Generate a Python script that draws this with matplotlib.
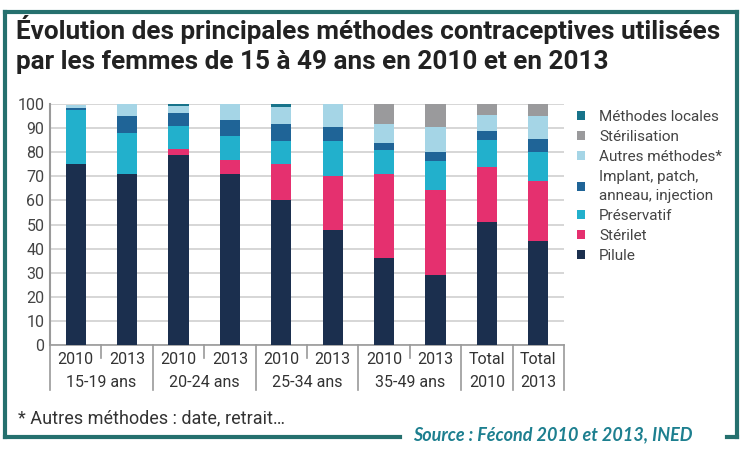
import matplotlib
matplotlib.use("Agg")
import matplotlib.pyplot as plt
from matplotlib.lines import Line2D
import matplotlib.transforms as mtransforms
import numpy as np

plt.rcParams['font.family'] = ['Roboto', 'DejaVu Sans']

year_labels = ["2010", "2013", "2010", "2013", "2010", "2013", "2010", "2013", "Total", "Total"]
group_labels = ["15-19 ans", "20-24 ans", "25-34 ans", "35-49 ans", "2010", "2013"]
group_centers = [0.5, 2.5, 4.5, 6.5, 8, 9]

series_names = ["Pilule", "Stérilet", "Préservatif", "Implant, patch,\nanneau, injection",
                "Autres méthodes*", "Stérilisation", "Méthodes locales"]
pilule        = [75.0, 71.0, 79.0, 71.0, 60.0, 47.6, 36.0, 29.0, 51.0, 43.0]
sterilet      = [0.0, 0.0, 2.3, 5.8, 15.0, 22.5, 35.0, 35.5, 23.0, 25.0]
preservatif   = [22.7, 17.0, 9.5, 10.0, 9.5, 14.5, 10.0, 12.0, 11.0, 12.0]
implant       = [0.7, 7.0, 5.5, 6.4, 7.0, 5.8, 3.0, 3.5, 4.0, 5.5]
autres        = [1.1, 5.0, 2.7, 6.8, 7.3, 9.6, 7.8, 10.5, 6.6, 9.5]
sterilisation = [0.0, 0.0, 0.0, 0.0, 0.0, 0.0, 8.2, 9.5, 4.4, 5.0]
locales       = [0.0, 0.0, 1.0, 0.0, 1.2, 0.0, 0.0, 0.0, 0.0, 0.0]
series = [pilule, sterilet, preservatif, implant, autres, sterilisation, locales]
colors = ["#1b2f4e", "#e5306f", "#22b0cc", "#1f6497", "#a5d5e6", "#9a9a9c", "#17738a"]

W, H = 747, 450
fig = plt.figure(figsize=(W / 100, H / 100), dpi=100)
fig.patch.set_facecolor("white")

ax = fig.add_axes([50 / W, 1 - 345 / H, (564 - 50) / W, (345 - 104) / H])
x = np.arange(len(year_labels))
bottom = np.zeros(len(x))
handles = []
for vals, col, name in zip(series, colors, series_names):
    v = np.array(vals)
    bc = ax.bar(x, v, width=0.39, bottom=bottom, color=col, label=name, zorder=3, linewidth=0)
    handles.append(bc)
    bottom += v

ax.set_xlim(-0.5, 9.5)
ax.set_ylim(0, 100)
ax.set_yticks(np.arange(0, 101, 10))
ax.tick_params(axis='y', length=0, labelsize=11.5, labelcolor="#444444", pad=4)
ax.yaxis.grid(True, color="#cfcfcf", linewidth=1.2, zorder=0)
ax.set_axisbelow(True)
for s in ["top", "right"]:
    ax.spines[s].set_visible(False)
ax.spines["left"].set_color("#9a9a9a")
ax.spines["left"].set_linewidth(1.5)
ax.spines["bottom"].set_color("#9a9a9a")
ax.spines["bottom"].set_linewidth(1.2)

ax.set_xticks(x)
ax.set_xticklabels(year_labels)
ax.tick_params(axis='x', length=0, labelsize=11.5, labelcolor="#333333", pad=5)

trans = mtransforms.blended_transform_factory(ax.transData, ax.transAxes)
for gx, gl in zip(group_centers, group_labels):
    ax.text(gx, -0.155, gl, transform=trans, ha="center", va="center",
            fontsize=11.5, color="#333333")

# separators
y_short = -13 / 241
y_long = -45 / 241
for i in range(11):
    xp = i - 0.5
    if i in (1, 3, 5, 7):
        ax.plot([xp, xp], [0, y_short], transform=trans, color="#9a9a9a", lw=1.2, clip_on=False)
    else:
        ax.plot([xp, xp], [0, y_long], transform=trans, color="#9a9a9a", lw=1.2, clip_on=False)

# legend
leg_handles = handles[::-1]
leg_labels = series_names[::-1]
leg = ax.legend(leg_handles, leg_labels, loc="upper left",
                bbox_to_anchor=(577 / W, 1 - 110 / H), bbox_transform=fig.transFigure,
                frameon=False, fontsize=11, handlelength=0.55, handleheight=0.55,
                handletextpad=0.9, labelspacing=0.4, borderaxespad=0, borderpad=0)
for t in leg.get_texts():
    t.set_color("#444444")
    t.set_linespacing(1.4)

# title
fig.text(16 / W, 1 - 30 / H, "Évolution des principales méthodes contraceptives utilisées",
         fontsize=18.8, fontweight="bold", color="#222222", va="center", ha="left")
fig.text(16 / W, 1 - 62 / H, "par les femmes de 15 à 49 ans en 2010 et en 2013",
         fontsize=18.8, fontweight="bold", color="#222222", va="center", ha="left")

# footnote
fig.text(18 / W, 1 - 418 / H, "* Autres méthodes : date, retrait…", fontsize=13,
         color="#333333", va="center", ha="left")

# frame
border = "#25706e"
lw = 3
fig.add_artist(Line2D([5 / W, 5 / W], [1 - 12 / H, 1 - 437 / H], color=border, lw=lw))
fig.add_artist(Line2D([5 / W, 737 / W], [1 - 12 / H, 1 - 12 / H], color=border, lw=lw))
fig.add_artist(Line2D([737 / W, 737 / W], [1 - 12 / H, 1 - 437 / H], color=border, lw=lw))
fig.add_artist(Line2D([5 / W, 400 / W], [1 - 437 / H, 1 - 437 / H], color=border, lw=lw))
fig.add_artist(Line2D([727 / W, 737 / W], [1 - 437 / H, 1 - 437 / H], color=border, lw=lw))

fig.text(553 / W, 1 - 435 / H, "Source : Fécond 2010 et 2013, INED", fontsize=13,
         fontweight="bold", fontstyle="italic", color="#1d7f8f",
         family=["Lato", "DejaVu Sans"], va="center", ha="center")

fig.savefig("out.png", dpi=100, facecolor="white")
